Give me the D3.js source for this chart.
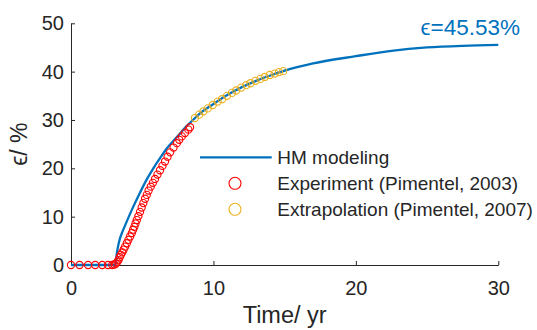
<!DOCTYPE html>
<html>
<head>
<meta charset="utf-8">
<script src="https://cdn.jsdelivr.net/npm/d3@7"></script>
<style>
    body { margin: 0; background: #fff; }
    text { font-family: "Liberation Sans", Arial, sans-serif; fill: #262626; }
</style>
</head>
<body>
<svg id="chart" width="537" height="330"></svg>
<script>
(function() {
    var xTicks = [0, 10, 20, 30],
        yTicks = [0, 10, 20, 30, 40, 50]

    // HM modeling curve [t, eps]
    var model = [
        [0, 0], [3.1, 0], [3.15, 0.5], [3.2, 2], [3.3, 3.8], [3.44, 5.5], [3.6, 6.8],
        [3.8, 8.2], [4.27, 11.4], [4.85, 15], [5.3, 17.6], [5.78, 20], [6.25, 22.1],
        [6.72, 24.1], [7.2, 25.7], [7.66, 27.2], [8.1, 28.7], [8.6, 30.1], [9, 31.2],
        [10, 33.3], [11, 35.2], [12, 36.8], [13, 38.1], [14, 39.2], [15, 40.2],
        [17, 41.7], [20, 43.2], [22.5, 44.3], [25, 45.0], [27.5, 45.35], [30, 45.53]
    ]

    // Experiment (Pimentel, 2003)
    var experiment = [
        [0, 0], [0.6, 0], [1.2, 0], [1.7, 0], [2.2, 0], [2.6, 0], [2.9, 0],
        [3.05, 0.1], [3.15, 0.3], [3.25, 0.6], [3.33, 1.0], [3.42, 1.6], [3.5, 2.1],
        [3.6, 2.6], [3.7, 3.2], [3.8, 3.8], [3.92, 4.5], [4.03, 5.2], [4.15, 5.9],
        [4.27, 6.6], [4.36, 7.3], [4.45, 7.9], [4.53, 8.6], [4.62, 9.3], [4.73, 10.1],
        [4.85, 11.0], [4.96, 11.9], [5.08, 12.8], [5.2, 13.7], [5.32, 14.5], [5.45, 15.4],
        [5.6, 16.2], [5.75, 17.0], [5.9, 17.8], [6.07, 18.7], [6.25, 19.6], [6.42, 20.5],
        [6.6, 21.4], [6.78, 22.4], [6.96, 23.3], [7.2, 24.3], [7.43, 25.2], [7.6, 25.9],
        [7.78, 26.6], [8.0, 27.3], [8.24, 28.0], [8.36, 28.5]
    ]

    // Extrapolation (Pimentel, 2007)
    var extrapolation = [
        [8.7, 30.4], [9.0, 31.1], [9.3, 31.8], [9.6, 32.4], [9.95, 33.1], [10.3, 33.8],
        [10.6, 34.3], [10.95, 35.0], [11.3, 35.6], [11.6, 36.1], [11.95, 36.7], [12.3, 37.2],
        [12.6, 37.6], [12.95, 38.1], [13.3, 38.5], [13.6, 38.9], [13.95, 39.3], [14.3, 39.6],
        [14.6, 39.9], [14.9, 40.1]
    ]

    var legendItems = [
        {label: "HM modeling", type: "line", color: "#0072BD"},
        {label: "Experiment (Pimentel, 2003)", type: "circle", color: "#FF0000"},
        {label: "Extrapolation (Pimentel, 2007)", type: "circle", color: "#EDB120"}
    ]

    var finalValue = 45.53

    var svg = d3.select("#chart"),
        x = d3.scaleLinear().domain([0, 30]).range([71, 498.3]),
        y = d3.scaleLinear().domain([0, 50]).range([265, 23.3])

    var line = d3.line()
        .curve(d3.curveMonotoneX)
        .x(function(d) { return x(d[0]) })
        .y(function(d) { return y(d[1]) })

    // axes
    var xAxis = svg.append("g")
        .attr("transform", "translate(0," + y(0) + ")")
        .call(d3.axisBottom(x).tickValues(xTicks).tickSize(-4).tickPadding(16).tickSizeOuter(0))

    var yAxis = svg.append("g")
        .attr("transform", "translate(" + x(0) + ",0)")
        .call(d3.axisLeft(y).tickValues(yTicks).tickSize(-4).tickPadding(7).tickSizeOuter(0))

    ;[xAxis, yAxis].forEach(function(g) {
        g.select(".domain").attr("stroke", "#262626")
        g.selectAll(".tick line").attr("stroke", "#262626")
        g.selectAll(".tick text")
            .style("font-size", "20px")
            .attr("fill", "#262626")
    })

    svg.append("text")
        .attr("x", (x(0) + x(30)) / 2)
        .attr("y", 323)
        .attr("text-anchor", "middle")
        .style("font-size", "23.5px")
        .text("Time/ yr")

    svg.append("text")
        .attr("transform", "translate(27," + (y(0) + y(50)) / 2 + ") rotate(-90)")
        .attr("text-anchor", "middle")
        .style("font-size", "23px")
        .text("ϵ/ %")

    // marks
    svg.append("path")
        .datum(model)
        .attr("d", line)
        .attr("fill", "none")
        .attr("stroke", "#0072BD")
        .attr("stroke-width", 2.3)

    function circles(data, color) {
        svg.append("g").selectAll("circle")
            .data(data)
            .enter().append("circle")
            .attr("cx", function(d) { return x(d[0]) })
            .attr("cy", function(d) { return y(d[1]) })
            .attr("r", 3.6)
            .attr("fill", "none")
            .attr("stroke", color)
            .attr("stroke-width", 1.1)
    }

    circles(experiment, "#FF0000")
    circles(extrapolation, "#EDB120")

    svg.append("text")
        .attr("x", 520)
        .attr("y", 35)
        .attr("text-anchor", "end")
        .style("font-size", "22.5px")
        .style("fill", "#0072BD")
        .text("ϵ=" + finalValue.toFixed(2) + "%")

    // legend
    var legend = svg.append("g").selectAll("g")
        .data(legendItems)
        .enter().append("g")
        .attr("transform", function(d, i) { return "translate(0," + (157.3 + i * 26) + ")" })

    legend.each(function(d) {
        var g = d3.select(this)
        if (d.type == "line") {
            g.append("line")
                .attr("x1", 200).attr("x2", 271.7)
                .attr("stroke", d.color)
                .attr("stroke-width", 2.3)
        } else {
            g.append("circle")
                .attr("cx", 235).attr("r", 6)
                .attr("fill", "none")
                .attr("stroke", d.color)
                .attr("stroke-width", 1.1)
        }
        g.append("text")
            .attr("x", 277.3)
            .attr("y", 6.8)
            .style("font-size", "19px")
            .text(d.label)
    })
}())
</script>
</body>
</html>
